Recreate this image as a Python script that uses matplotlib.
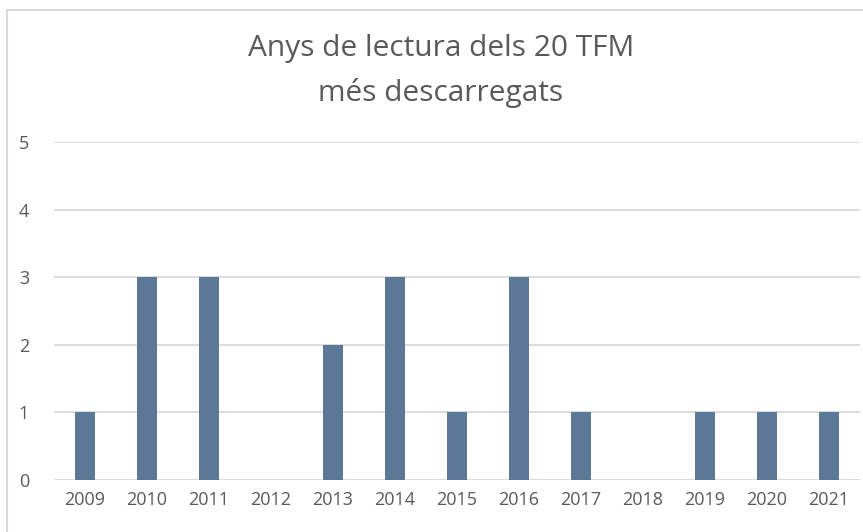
import matplotlib
matplotlib.use("Agg")
import matplotlib.pyplot as plt
from matplotlib.lines import Line2D

years = ["2009", "2010", "2011", "2012", "2013", "2014", "2015", "2016",
         "2017", "2018", "2019", "2020", "2021"]
counts = [1, 3, 3, 0, 2, 3, 1, 3, 1, 0, 1, 1, 1]
title = "Anys de lectura dels 20 TFM\nmés descarregats"

plt.rcParams['font.family'] = ['Open Sans', 'DejaVu Sans']
W, H = 863, 532
fig = plt.figure(figsize=(W / 100, H / 100), dpi=100)
ax = fig.add_axes([54 / W, 1 - 480 / H, (860 - 54) / W, (480 - 142) / H])

x = list(range(len(years)))
ax.bar(x, counts, width=0.32, color="#5b7898", zorder=3)
ax.set_xlim(-0.5, len(years) - 0.5)
ax.set_ylim(0, 5)
ax.set_yticks(range(0, 6))
ax.set_xticks(x)
ax.set_xticklabels(years)
ax.yaxis.grid(True, color="#d9d9d9", linewidth=1.3, zorder=0)
for s in ax.spines.values():
    s.set_visible(False)
ax.tick_params(axis="both", length=0, labelsize=13, colors="#595959")
ax.tick_params(axis="y", pad=18)
ax.tick_params(axis="x", pad=8)

fig.text(441 / W, 1 - 71 / H, title, ha="center", va="center",
         fontsize=21.5, color="#595959", linespacing=1.65)

c = "#d9d9d9"
fig.add_artist(Line2D([7 / W, 7 / W], [0, 1 - 10 / H], transform=fig.transFigure, color=c, lw=1.5))
fig.add_artist(Line2D([7 / W, 1], [1 - 10 / H, 1 - 10 / H], transform=fig.transFigure, color=c, lw=1.5))

fig.savefig("out.png", dpi=100)
